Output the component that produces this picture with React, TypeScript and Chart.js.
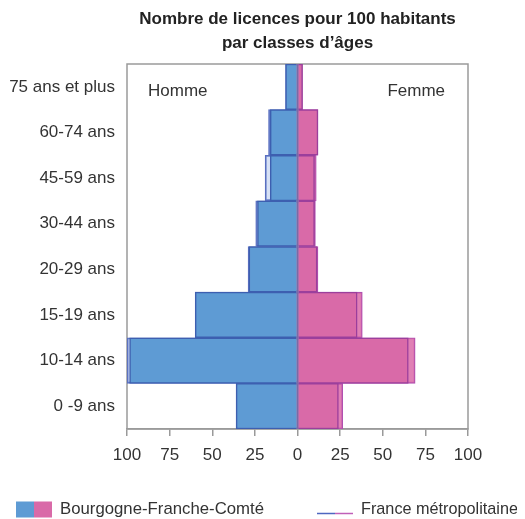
import React, { useEffect, useRef } from "react";
import { Chart, registerables } from "chart.js";

Chart.register(...registerables);

const categories = [
  "75 ans et plus",
  "60-74 ans",
  "45-59 ans",
  "30-44 ans",
  "20-29 ans",
  "15-19 ans",
  "10-14 ans",
  "0 -9 ans",
];
const bfcHommes = [7, 16, 16, 23.5, 28.5, 60, 98.5, 36];
const bfcFemmes = [3, 12, 10, 10, 11.5, 35, 65, 24];
const franceHommes = [7, 17, 19, 24.5, 29, 60, 100, 36];
const franceFemmes = [2.5, 12, 11, 10.5, 12, 38, 69, 26.5];
const titleLines = ["Nombre de licences pour 100 habitants", "par classes d\u2019âges"];
const legendLabels = ["Bourgogne-Franche-Comté", "France métropolitaine"];

const FONT = "'Liberation Sans', Arial, sans-serif";
const BLUE = "#5e9bd4";
const PINK = "#d96aa8";
const BLUE_EDGE = "#3d5fb0";
const PINK_EDGE = "#9b3f9c";

const decorPlugin = {
  id: "decor",
  beforeDatasetsDraw(chart: any) {
    const { ctx, chartArea: a } = chart;
    ctx.save();
    ctx.strokeStyle = "#9a9a9a";
    ctx.lineWidth = 1.5;
    ctx.strokeRect(a.left, a.top, a.right - a.left, a.bottom - a.top);
    ctx.restore();
  },
  afterDatasetsDraw(chart: any) {
    const { ctx, chartArea: a, scales } = chart;
    const x0 = scales.x.getPixelForValue(0);
    ctx.save();
    ctx.strokeStyle = "#7a6aa6";
    ctx.lineWidth = 2;
    ctx.beginPath();
    ctx.moveTo(x0, a.top);
    ctx.lineTo(x0, a.bottom);
    ctx.stroke();
    ctx.restore();
  },
  afterDraw(chart: any) {
    const { ctx, chartArea: a } = chart;
    const cx = (a.left + a.right) / 2;
    ctx.save();
    ctx.fillStyle = "#222";
    ctx.font = `bold 17px ${FONT}`;
    ctx.textAlign = "center";
    ctx.textBaseline = "middle";
    ctx.fillText(titleLines[0], cx, 11, 318);
    ctx.fillText(titleLines[1], cx, 35);

    ctx.fillStyle = "#333";
    ctx.font = `17px ${FONT}`;
    ctx.textAlign = "left";
    ctx.fillText("Homme", a.left + 21, a.top + 27);
    ctx.textAlign = "right";
    ctx.fillText("Femme", a.right - 23, a.top + 27);

    // legend
    const ly = 501.5;
    ctx.fillStyle = BLUE;
    ctx.fillRect(8, ly - 8, 18, 16);
    ctx.fillStyle = PINK;
    ctx.fillRect(26, ly - 8, 18, 16);
    ctx.fillStyle = "#333";
    ctx.textAlign = "left";
    ctx.fillText(legendLabels[0], 52, ly, 204);

    ctx.lineWidth = 1.5;
    ctx.strokeStyle = "#4f67c0";
    ctx.beginPath();
    ctx.moveTo(309, ly + 4);
    ctx.lineTo(327, ly + 4);
    ctx.stroke();
    ctx.strokeStyle = "#c060b8";
    ctx.beginPath();
    ctx.moveTo(327, ly + 4);
    ctx.lineTo(345, ly + 4);
    ctx.stroke();
    ctx.fillText(legendLabels[1], 353, ly, 157);
    ctx.restore();
  },
};

export default function App() {
  const ref = useRef<HTMLCanvasElement>(null);
  useEffect(() => {
    if (!ref.current) return;
    const chart = new Chart(ref.current, {
      type: "bar",
      data: {
        labels: categories,
        datasets: [
          {
            label: "BFC Homme",
            data: bfcHommes.map((v) => -v),
            backgroundColor: BLUE,
            borderColor: BLUE_EDGE,
            borderWidth: 1.5,
          },
          {
            label: "BFC Femme",
            data: bfcFemmes,
            backgroundColor: PINK,
            borderColor: PINK_EDGE,
            borderWidth: 1.5,
          },
          {
            label: "France Homme",
            data: franceHommes.map((v) => -v),
            backgroundColor: "rgba(140,170,225,0.35)",
            borderColor: "#5a6fc0",
            borderWidth: 1.2,
          },
          {
            label: "France Femme",
            data: franceFemmes,
            backgroundColor: "rgba(218,106,168,0.85)",
            borderColor: "#b050b0",
            borderWidth: 1.2,
          },
        ],
      },
      options: {
        indexAxis: "y",
        animation: false,
        responsive: true,
        maintainAspectRatio: false,
        layout: { padding: { top: 56, right: 49, left: 0, bottom: 0 } },
        datasets: {
          bar: { barPercentage: 1, categoryPercentage: 1, grouped: false },
        },
        plugins: {
          legend: { display: false },
          title: { display: false },
          tooltip: { enabled: false },
        },
        scales: {
          x: {
            min: -100,
            max: 100,
            ticks: {
              stepSize: 25,
              callback: (v: any) => String(Math.abs(Number(v))),
              color: "#333",
              font: { family: FONT, size: 17 },
              padding: 9,
            },
            grid: {
              drawOnChartArea: false,
              drawTicks: true,
              tickLength: 7,
              color: "#9a9a9a",
              lineWidth: 1.5,
            },
            border: { display: true, color: "#9a9a9a", width: 1.5 },
            afterFit: (s: any) => {
              s.height = 90;
            },
          },
          y: {
            ticks: {
              color: "#333",
              font: { family: FONT, size: 17 },
              padding: 12,
            },
            grid: { display: false, drawTicks: false },
            border: { display: false },
            afterFit: (s: any) => {
              s.width = 119;
            },
          },
        },
      },
      plugins: [decorPlugin],
    });
    return () => chart.destroy();
  }, []);
  return (
    <div style={{ width: 509, height: 511 }}>
      <canvas ref={ref} />
    </div>
  );
}
